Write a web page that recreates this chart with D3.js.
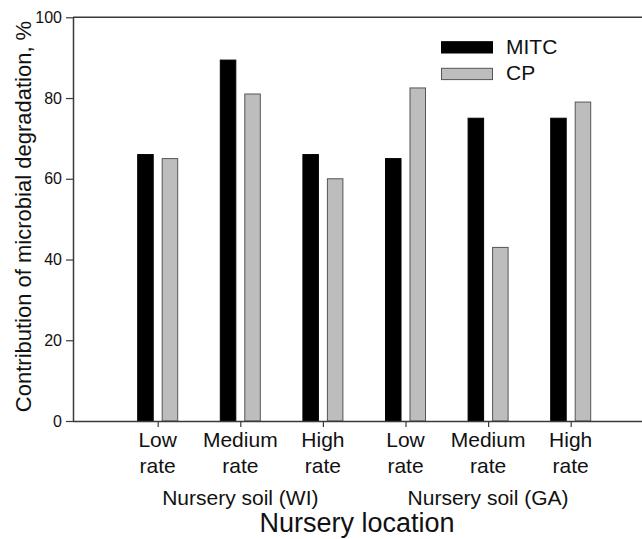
<!DOCTYPE html>
<html><head><meta charset="utf-8">
<script src="https://cdn.jsdelivr.net/npm/d3@7"></script>
<style>
html,body{margin:0;padding:0;background:#fff;}
svg{display:block;font-family:"Liberation Sans",Arial,sans-serif;}
</style></head>
<body>
<svg id="chart" width="642" height="539"></svg>
<script>
const categories = ["WI-Low","WI-Medium","WI-High","GA-Low","GA-Medium","GA-High"];
const tickLines = [["Low","rate"],["Medium","rate"],["High","rate"],["Low","rate"],["Medium","rate"],["High","rate"]];
const groupLabels = ["Nursery soil (WI)","Nursery soil (GA)"];
const groupCenterIdx = [1,4];
const seriesNames = ["MITC","CP"];
const mitcValues = [66, 89.4, 66, 65, 75, 75];
const cpValues = [65, 81, 60, 82.5, 43, 79];
const yTicks = [0,20,40,60,80,100];
const seriesFill = ["#000000","#bdbdbd"];
const seriesStroke = ["#000000","#555555"];

const svg = d3.select("#chart");
const plotLeft = 73, plotTop = 17.3, plotBottom = 421;

const x = d3.scalePoint().domain(categories).range([75.1, 653.3]).padding(1);
const sub = d3.scaleBand().domain(seriesNames).range([-20, 20]).paddingInner(0.367);
const y = d3.scaleLinear().domain([0,100]).range([plotBottom, plotTop]);

const axisColor = "#3a3a3a";

// bars
const rows = categories.map((c,i)=>({cat:c, vals:[mitcValues[i], cpValues[i]]}));
const g = svg.append("g");
rows.forEach(r=>{
  seriesNames.forEach((s,si)=>{
    g.append("rect")
      .attr("x", x(r.cat) + sub(s))
      .attr("width", sub.bandwidth())
      .attr("y", y(r.vals[si]))
      .attr("height", y(0) - y(r.vals[si]))
      .attr("fill", seriesFill[si])
      .attr("stroke", seriesStroke[si])
      .attr("stroke-width", 1);
  });
});

// frame top line
svg.append("line").attr("x1", plotLeft).attr("x2", 660).attr("y1", plotTop).attr("y2", plotTop)
  .attr("stroke", axisColor).attr("stroke-width", 1.5);

// y axis
const yAxis = svg.append("g").attr("transform", `translate(${plotLeft},0)`)
  .call(d3.axisLeft(y).tickValues(yTicks).tickSize(7).tickPadding(4).tickSizeOuter(0));
yAxis.select(".domain").attr("stroke", axisColor).attr("stroke-width", 1.5);
yAxis.selectAll(".tick line").attr("stroke", axisColor).attr("stroke-width", 1.2);
yAxis.selectAll(".tick text").attr("font-size", 16).attr("fill", "#111")
  .attr("font-family", "Liberation Sans, Arial, sans-serif");

// x axis
const xAxis = svg.append("g").attr("transform", `translate(0,${plotBottom})`)
  .call(d3.axisBottom(x).tickSize(6).tickSizeOuter(0).tickFormat(""));
xAxis.select(".domain").attr("d", `M${plotLeft},0.5H660`).attr("stroke", axisColor).attr("stroke-width", 1.5);
xAxis.selectAll(".tick line").attr("stroke", axisColor).attr("stroke-width", 1.2);

// x tick labels (two lines)
categories.forEach((c,i)=>{
  const t = svg.append("text").attr("x", x(c)).attr("y", 447)
    .attr("text-anchor","middle").attr("font-size", 21).attr("fill","#111");
  tickLines[i].forEach((ln,li)=>{
    t.append("tspan").attr("x", x(c)).attr("dy", li===0?0:26).text(ln);
  });
});

// group labels
groupLabels.forEach((gl,i)=>{
  svg.append("text").attr("x", x(categories[groupCenterIdx[i]])).attr("y", 505)
    .attr("text-anchor","middle").attr("font-size", 21).attr("fill","#111").text(gl);
});

// x axis title
svg.append("text").attr("x", 357).attr("y", 532).attr("text-anchor","middle")
  .attr("font-size", 27).attr("fill","#111").text("Nursery location");

// y axis title
svg.append("text").attr("transform","translate(31,216.5) rotate(-90)")
  .attr("text-anchor","middle").attr("font-size", 22).attr("fill","#111")
  .text("Contribution of microbial degradation, %");

// legend
const legY = [41.7, 68.3];
seriesNames.forEach((s,si)=>{
  svg.append("rect").attr("x", 441.5).attr("y", legY[si]).attr("width", 51).attr("height", 11.3)
    .attr("fill", seriesFill[si]).attr("stroke", seriesStroke[si]).attr("stroke-width", 1);
  svg.append("text").attr("x", 506).attr("y", legY[si] + 12).attr("font-size", 21)
    .attr("fill","#111").text(s);
});
</script>
</body></html>
